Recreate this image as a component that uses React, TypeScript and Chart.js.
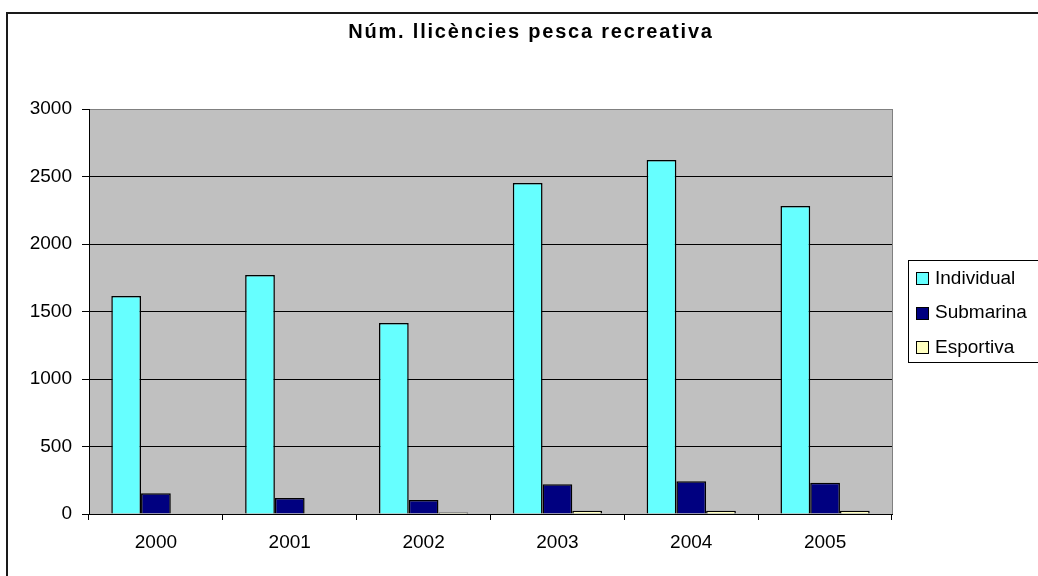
import React, { useEffect, useRef } from "react";
import { Chart, registerables } from "chart.js";

Chart.register(...registerables);

const title = "Núm. llicències pesca recreativa";
const years = ["2000", "2001", "2002", "2003", "2004", "2005"];
const seriesNames = ["Individual", "Submarina", "Esportiva"];
const individual = [1615, 1770, 1415, 2452, 2622, 2281];
const submarina = [153, 118, 104, 220, 242, 232];
const esportiva = [0, 0, 12, 25, 25, 25];
const seriesColors = ["#66FFFF", "#000080", "#FFFFC0"];
const yMax = 3000;
const yStep = 500;

const FONT = '"Liberation Sans", Arial, sans-serif';

const framePlugin = {
  id: "frame",
  beforeDraw(chart: any) {
    const { ctx, chartArea } = chart;
    ctx.save();
    ctx.fillStyle = "#ffffff";
    ctx.fillRect(0, 0, chart.width, chart.height);
    // outer frame
    ctx.strokeStyle = "#1a1a1a";
    ctx.lineWidth = 2;
    ctx.strokeRect(7, 13, chart.width + 20, chart.height + 20);
    // plot area
    ctx.fillStyle = "#C0C0C0";
    ctx.fillRect(chartArea.left, chartArea.top, chartArea.right - chartArea.left, chartArea.bottom - chartArea.top);
    ctx.strokeStyle = "#808080";
    ctx.lineWidth = 1;
    ctx.strokeRect(chartArea.left + 0.5, chartArea.top + 0.5, chartArea.right - chartArea.left, chartArea.bottom - chartArea.top);
    ctx.restore();
  },
  afterDraw(chart: any) {
    const { ctx } = chart;
    ctx.save();
    // title
    ctx.font = `bold 20px ${FONT}`;
    (ctx as any).letterSpacing = "1.8px";
    ctx.fillStyle = "#000";
    ctx.textAlign = "center";
    ctx.textBaseline = "middle";
    ctx.fillText(title, 531, 32);
    (ctx as any).letterSpacing = "0px";
    // legend
    ctx.strokeStyle = "#000";
    ctx.lineWidth = 1;
    ctx.strokeRect(908.5, 260.5, 200, 102);
    ctx.font = `19px ${FONT}`;
    ctx.textAlign = "left";
    chart.data.datasets.forEach((ds: any, i: number) => {
      const yc = 278.5 + i * 34.5;
      ctx.fillStyle = ds.backgroundColor;
      ctx.fillRect(916, Math.round(yc - 6.5), 13, 13);
      ctx.strokeRect(916.5, Math.round(yc - 6.5) + 0.5, 12, 12);
      ctx.fillStyle = "#000";
      ctx.fillText(ds.label, 935, yc);
    });
    ctx.restore();
  },
};

export default function App() {
  const ref = useRef<HTMLCanvasElement>(null);
  useEffect(() => {
    if (!ref.current) return;
    const chart = new Chart(ref.current, {
      type: "bar",
      data: {
        labels: years,
        datasets: [individual, submarina, esportiva].map((d, i) => ({
          label: seriesNames[i],
          data: d,
          backgroundColor: seriesColors[i],
          borderColor: "#000",
          borderWidth: 1.5,
          borderSkipped: "bottom",
          categoryPercentage: 3 / 4.5,
          barPercentage: 1.0,
        })),
      },
      options: {
        responsive: false,
        animation: false,
        layout: { padding: { top: 109, right: 146, bottom: 0, left: 0 } },
        plugins: {
          legend: { display: false },
          title: { display: false },
          tooltip: { enabled: false },
        },
        scales: {
          x: {
            afterFit(scale: any) {
              scale.height = 62;
            },
            grid: {
              drawOnChartArea: false,
              drawTicks: true,
              tickLength: 6,
              color: "#000",
              offset: true,
            },
            border: { color: "#000", width: 1 },
            ticks: { color: "#000", font: { family: FONT, size: 19 }, padding: 11 },
          },
          y: {
            min: 0,
            max: yMax,
            afterFit(scale: any) {
              scale.width = 89;
            },
            grid: {
              color: (c: any) => (c.tick && c.tick.value === yMax ? "#808080" : "#000"),
              tickColor: "#000",
              tickLength: 7,
            },
            border: { color: "#000", width: 1 },
            ticks: {
              stepSize: yStep,
              color: "#000",
              font: { family: FONT, size: 19 },
              padding: 10,
              callback: (v: any) => String(v),
            },
          },
        },
      },
      plugins: [framePlugin],
    });
    return () => chart.destroy();
  }, []);
  return (
    <div style={{ position: "absolute", left: 0, top: 0, width: 1038, height: 576 }}>
      <canvas ref={ref} width={1038} height={576} style={{ display: "block" }} />
    </div>
  );
}
